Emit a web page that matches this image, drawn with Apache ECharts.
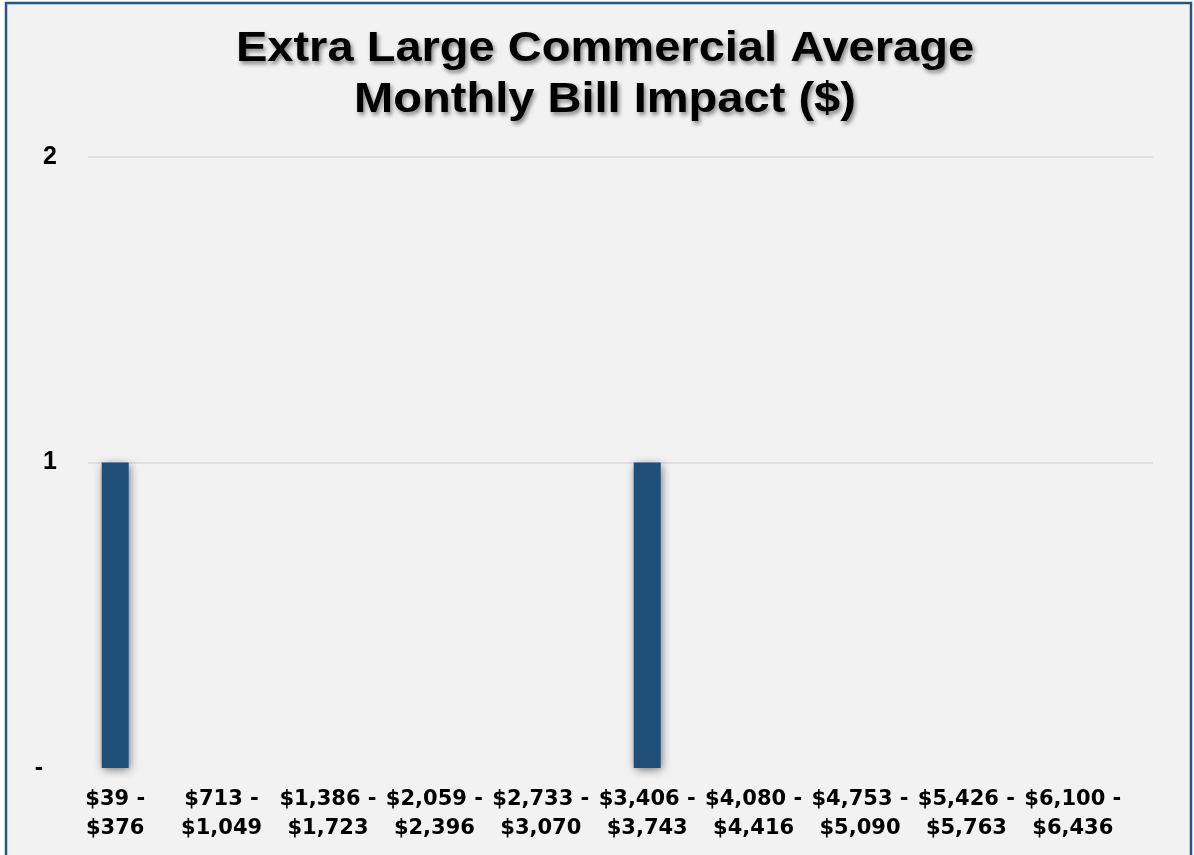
<!DOCTYPE html>
<html>
<head>
<meta charset="utf-8">
<title>Extra Large Commercial Average Monthly Bill Impact ($)</title>
<script src="https://cdn.jsdelivr.net/npm/echarts@6/dist/echarts.min.js"></script>
<style>
  html, body { margin: 0; padding: 0; background: #ffffff; }
  #chart { width: 1194px; height: 855px; }
</style>
</head>
<body>
<div id="chart"></div>
<script>
// Bill-impact ranges (bins) and number of customers in each
const titleLines = ['Extra Large Commercial Average', 'Monthly Bill Impact ($)'];
const categories = [
  '$39 -\n$376', '$713 -\n$1,049', '$1,386 -\n$1,723', '$2,059 -\n$2,396', '$2,733 -\n$3,070',
  '$3,406 -\n$3,743', '$4,080 -\n$4,416', '$4,753 -\n$5,090', '$5,426 -\n$5,763', '$6,100 -\n$6,436'
];
const customerCounts = [1, 0, 0, 0, 0, 1, 0, 0, 0, 0];
const yTicks = [0, 1, 2];

const chart = echarts.init(document.getElementById('chart'), null, { renderer: 'canvas' });

const axisFont = "'Liberation Sans', Arial, sans-serif";
const titleFont = "bold 42px 'Liberation Sans', Arial, sans-serif";

const titleShadow = {
  textShadowColor: 'rgba(0,0,0,0.45)',
  textShadowBlur: 4,
  textShadowOffsetX: 2,
  textShadowOffsetY: 3
};

function titleText(line, y) {
  return {
    type: 'text',
    x: 605,
    y: y,
    scaleX: 1.12,
    z: 10,
    silent: true,
    style: Object.assign({
      text: line,
      x: 0,
      y: 0,
      font: titleFont,
      fill: '#000000',
      align: 'center',
      verticalAlign: 'middle',
      textAlign: 'center',
      textVerticalAlign: 'middle'
    }, titleShadow)
  };
}

const option = {
  backgroundColor: '#ffffff',
  animation: false,
  graphic: [
    {
      type: 'rect',
      z: -10,
      silent: true,
      shape: { x: 6, y: 3, width: 1185, height: 900 },
      style: { fill: '#f2f2f2', stroke: '#285684', lineWidth: 2.5 }
    },
    titleText(titleLines[0], 49),
    titleText(titleLines[1], 100)
  ],
  grid: [
    // gridlines and value labels
    { left: 88, right: 41, top: 157, bottom: 87, containLabel: false },
    // bars and range labels
    { left: 62, right: 68, top: 157, bottom: 87, containLabel: false }
  ],
  xAxis: [
    { type: 'category', gridIndex: 0, data: categories, show: false },
    {
      type: 'category',
      gridIndex: 1,
      data: categories,
      axisLine: { show: false },
      axisTick: { show: false },
      axisLabel: {
        interval: 0,
        margin: 17,
        color: '#000000',
        fontFamily: "'DejaVu Sans', sans-serif",
        fontWeight: 'bold',
        fontSize: 21,
        lineHeight: 29,
        align: 'center'
      }
    }
  ],
  yAxis: [
    {
      type: 'value',
      gridIndex: 0,
      min: yTicks[0],
      max: yTicks[yTicks.length - 1],
      interval: 1,
      axisLine: { show: false },
      axisTick: { show: false },
      splitLine: { show: true, showMinLine: false, lineStyle: { color: '#d9d9d9', width: 1.5 } },
      axisLabel: {
        margin: 31,
        color: '#000000',
        fontFamily: axisFont,
        fontWeight: 'bold',
        fontSize: 25,
        formatter: function (v) { return v === 0 ? '-  ' : String(v); }
      }
    },
    {
      type: 'value',
      gridIndex: 1,
      min: yTicks[0],
      max: yTicks[yTicks.length - 1],
      interval: 1,
      show: false,
      splitLine: { show: false }
    }
  ],
  series: [
    {
      type: 'bar',
      xAxisIndex: 1,
      yAxisIndex: 1,
      data: customerCounts,
      barWidth: 27,
      itemStyle: {
        color: '#1f4e79',
        shadowColor: 'rgba(0,0,0,0.55)',
        shadowBlur: 9,
        shadowOffsetX: 1,
        shadowOffsetY: 2
      },
      emphasis: { disabled: true }
    }
  ]
};

chart.setOption(option);
</script>
</body>
</html>
